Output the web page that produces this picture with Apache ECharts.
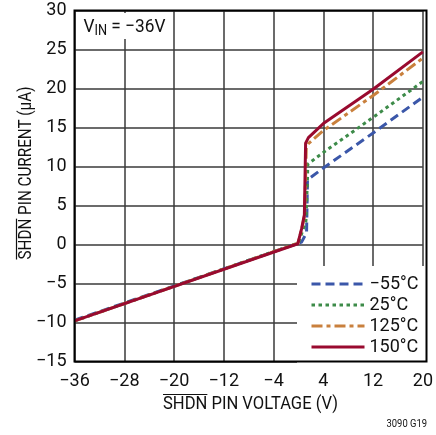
<!DOCTYPE html>
<html>
<head>
<meta charset="utf-8">
<script src="https://cdn.jsdelivr.net/npm/echarts@6/dist/echarts.min.js"></script>
<style>
  html, body { margin: 0; padding: 0; background: #fff; }
  #chart { width: 436px; height: 435px; }
</style>
</head>
<body>
<div id="chart"></div>
<script>
// SHDN pin current vs SHDN pin voltage at four temperatures, VIN = -36V
const seriesNames = ['\u221255\u00b0C', '25\u00b0C', '125\u00b0C', '150\u00b0C'];

const xNeg55 = [-36, 0.5, 1.3, 1.45, 4, 12, 20];
const yNeg55 = [-9.7, 0.3, 1.5, 8.3, 9.8, 14.3, 18.9];

const x25 = [-36, 0.0, 1.2, 1.45, 1.5, 4, 12, 20];
const y25 = [-9.8, 0.2, 3.0, 8.5, 10.3, 11.8, 16.3, 20.9];

const x125 = [-36, -0.1, 0.6, 1.0, 1.25, 1.55, 4, 12, 20];
const y125 = [-9.8, 0.15, 2.2, 3.8, 12.3, 12.9, 14.6, 19.1, 23.9];

const x150 = [-36, -0.1, 0.5, 0.95, 1.15, 1.6, 4, 12, 20];
const y150 = [-9.8, 0.1, 2.0, 3.8, 13.0, 13.7, 15.5, 19.9, 24.7];

const xTicks = [-36, -28, -20, -12, -4, 4, 12, 20];
const yTicks = [-15, -10, -5, 0, 5, 10, 15, 20, 25, 30];

const FONT = 'Roboto, "Liberation Sans", sans-serif';
const minus = v => String(v).replace('-', '\u2212');

const measureCtx = document.createElement('canvas').getContext('2d');
function textWidth(str, size) {
  measureCtx.font = size + 'px ' + FONT;
  return measureCtx.measureText(str).width;
}

function pairs(xs, ys) { return xs.map((x, i) => [x, ys[i]]); }

const colors = ['#3b57a9', '#3d8b49', '#c9803d', '#990a2f'];
const dashes = [[9, 5], [3.5, 3.5], [11, 4, 4, 4], 'solid'];
const xsAll = [xNeg55, x25, x125, x150];
const ysAll = [yNeg55, y25, y125, y150];

const series = seriesNames.map((name, i) => ({
  name: name,
  type: 'line',
  symbol: 'none',
  smooth: false,
  data: pairs(xsAll[i], ysAll[i]),
  z: 3 + i,
  lineStyle: { color: colors[i], width: 3, type: dashes[i], cap: 'butt', join: 'round' },
  itemStyle: { color: colors[i] }
}));

// Axis titles (condensed horizontally) with an overbar on SHDN
const TITLE_SIZE = 19;
const xTitle = 'SHDN PIN VOLTAGE (V)';
const yTitle = 'SHDN PIN CURRENT (\u03bcA)';
const xW = textWidth(xTitle, TITLE_SIZE);
const yW = textWidth(yTitle, TITLE_SIZE);
const barW = textWidth('SHDN', TITLE_SIZE);
const xScale = 175 / xW;
const yScale = 173 / yW;

const noteW = textWidth('V', 19) + textWidth('IN', 14) + textWidth(' = \u221236V', 19);
const noteScale = 82 / noteW;
const codeScale = 40.5 / textWidth('3090 G19', 11);

const chart = echarts.init(document.getElementById('chart'), null, { renderer: 'canvas' });
chart.setOption({
  animation: false,
  backgroundColor: '#fff',
  grid: { left: 74.5, right: 9.5, top: 10.5, bottom: 73.5, show: false },
  xAxis: {
    type: 'value', min: -36, max: 20, interval: 8,
    axisLine: { show: false },
    axisTick: { show: false },
    splitLine: { show: true, lineStyle: { color: '#3a3a3a', width: 1.5 } },
    axisLabel: { fontFamily: FONT, fontSize: 18, color: '#111', margin: 11, formatter: v => minus(v) }
  },
  yAxis: {
    type: 'value', min: -15, max: 30, interval: 5,
    axisLine: { show: false },
    axisTick: { show: false },
    splitLine: { show: true, lineStyle: { color: '#3a3a3a', width: 1.5 } },
    axisLabel: { fontFamily: FONT, fontSize: 18, color: '#111', margin: 8, formatter: v => minus(v) }
  },
  legend: {
    data: seriesNames,
    orient: 'vertical',
    left: 297, top: 266,
    padding: [9, 6, 8, 13],
    backgroundColor: '#fff',
    itemWidth: 53, itemHeight: 14, itemGap: 3,
    itemStyle: { opacity: 0 },
    lineStyle: { width: 3 },
    textStyle: { fontFamily: FONT, fontSize: 18, color: '#111' },
    z: 2
  },
  series: series,
  graphic: [
    // plot frame
    { type: 'rect', shape: { x: 74.5, y: 10.5, width: 352, height: 351 }, style: { fill: null, stroke: '#000', lineWidth: 2 }, z: 10, silent: true },
    // white patch behind the supply note
    { type: 'rect', shape: { x: 76, y: 13, width: 94, height: 26 }, style: { fill: '#fff' }, z: 9, silent: true },
    // supply voltage note
    {
      type: 'group', x: 83.5, y: 17, scaleX: noteScale, z: 11,
      children: [{
        type: 'text', z: 11,
        style: {
          x: 0, y: 0,
          text: '{v|V}{s|IN}{v| = \u221236V}',
          rich: {
            v: { fontFamily: FONT, fontSize: 19, fill: '#111', color: '#111' },
            s: { fontFamily: FONT, fontSize: 14, fill: '#111', color: '#111', padding: [7, 0, 0, 0] }
          }
        }
      }]
    },
    // x axis title
    {
      type: 'group', x: 250.5, y: 404, scaleX: xScale, z: 10,
      children: [
        { type: 'text', z: 10, style: { text: xTitle, x: 0, y: 0, align: 'center', verticalAlign: 'middle', font: TITLE_SIZE + 'px ' + FONT, fill: '#111' } },
        { type: 'line', z: 10, shape: { x1: -xW / 2, y1: -9.5, x2: -xW / 2 + barW, y2: -9.5 }, style: { stroke: '#111', lineWidth: 1.2 } }
      ]
    },
    // y axis title
    {
      type: 'group', x: 26, y: 173, rotation: Math.PI / 2, scaleX: yScale, z: 10,
      children: [
        { type: 'text', z: 10, style: { text: yTitle, x: 0, y: 0, align: 'center', verticalAlign: 'middle', font: TITLE_SIZE + 'px ' + FONT, fill: '#111' } },
        { type: 'line', z: 10, shape: { x1: -yW / 2, y1: -9.5, x2: -yW / 2 + barW, y2: -9.5 }, style: { stroke: '#111', lineWidth: 1.2 } }
      ]
    },
    // figure code
    { type: 'group', x: 427, y: 419, scaleX: codeScale, z: 10,
      children: [{ type: 'text', z: 10, style: { x: 0, y: 0, align: 'right', text: '3090 G19', font: '11px ' + FONT, fill: '#111' } }] }
  ]
});
</script>
</body>
</html>
